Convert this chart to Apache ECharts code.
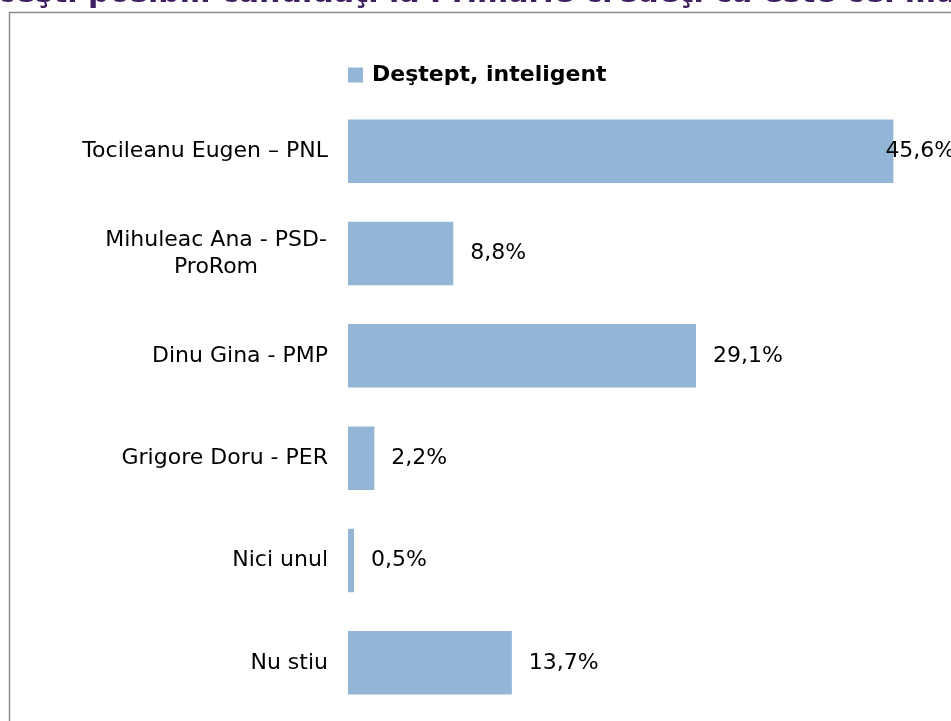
<!DOCTYPE html>
<html>
<head>
<meta charset="utf-8">
<script src="https://cdn.jsdelivr.net/npm/echarts@6/dist/echarts.min.js"></script>
<style>
  html, body { margin: 0; padding: 0; background: #fff; }
  #chart { width: 951px; height: 721px; }
</style>
</head>
<body>
<div id="chart"></div>
<script>
// date
const titleText = 'ceşti posibili candidaţi la Primărie credeţi că este cel mai';
const seriesName = 'Deştept, inteligent';
const categories = [
  'Tocileanu Eugen – PNL',
  'Mihuleac Ana - PSD-\nProRom',
  'Dinu Gina - PMP',
  'Grigore Doru - PER',
  'Nici unul',
  'Nu stiu'
];
const values = [45.6, 8.8, 29.1, 2.2, 0.5, 13.7];

const chart = echarts.init(document.getElementById('chart'));

const labelFont = '"DejaVu Sans", sans-serif';

chart.setOption({
  backgroundColor: '#fff',
  animation: false,
  title: {
    text: titleText,
    left: -3,
    top: -21,
    padding: 0,
    textStyle: {
      color: '#3d1e5e',
      fontFamily: labelFont,
      fontWeight: 'bold',
      fontSize: 30
    }
  },
  graphic: [{
    type: 'rect',
    shape: { x: 9.5, y: 12.5, width: 1200, height: 1200 },
    style: { fill: 'none', stroke: '#8c8c8c', lineWidth: 1.5 },
    silent: true
  }],
  legend: {
    data: [seriesName],
    left: 348,
    top: 64,
    padding: 0,
    itemWidth: 15,
    itemHeight: 15,
    icon: 'rect',
    textStyle: {
      color: '#000',
      fontFamily: labelFont,
      fontWeight: 'bold',
      fontSize: 22,
      padding: [0, 0, 0, 4]
    }
  },
  grid: {
    left: 348,
    right: 5,
    top: 100,
    bottom: 7,
    containLabel: false
  },
  xAxis: {
    type: 'value',
    min: 0,
    max: 50,
    show: false,
    splitLine: { show: false }
  },
  yAxis: {
    type: 'category',
    inverse: true,
    data: categories,
    axisLine: { show: false },
    axisTick: { show: false },
    splitLine: { show: false },
    axisLabel: {
      margin: 20,
      color: '#000',
      fontFamily: labelFont,
      fontSize: 22,
      lineHeight: 27,
      formatter: v => v.indexOf('\n') >= 0
        ? v.split('\n').map(s => '{c|' + s + '}').join('\n')
        : v,
      rich: {
        c: {
          width: 224,
          align: 'center',
          color: '#000',
          fontFamily: labelFont,
          fontSize: 22,
          lineHeight: 27
        }
      }
    }
  },
  series: [{
    name: seriesName,
    type: 'bar',
    barCategoryGap: '38%',
    itemStyle: { color: '#93b6d7' },
    data: values.map((v, i) => i === 0
      ? { value: v, label: { offset: [-25, 0] } }
      : v),
    label: {
      show: true,
      position: 'right',
      distance: 17,
      color: '#000',
      fontFamily: labelFont,
      fontSize: 22,
      formatter: p => p.value.toFixed(1).replace('.', ',') + '%'
    }
  }]
});
</script>
</body>
</html>
